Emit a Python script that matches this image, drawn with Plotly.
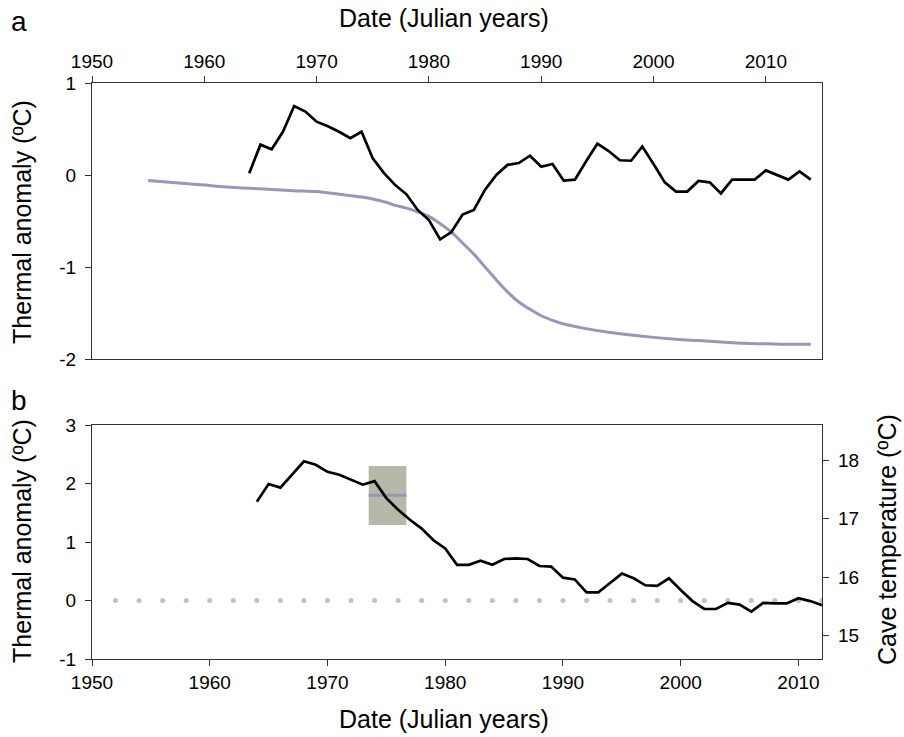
import plotly.graph_objects as go

# ---------------- data ----------------
years_a = list(range(1964, 2015))
anomaly_a = [0.02, 0.33, 0.28, 0.47, 0.75, 0.69, 0.58, 0.53, 0.47, 0.40,
             0.47, 0.18, 0.02, -0.11, -0.21, -0.38, -0.49, -0.70, -0.62, -0.43,
             -0.38, -0.16, 0.00, 0.11, 0.13, 0.21, 0.09, 0.12, -0.06, -0.05,
             0.15, 0.34, 0.26, 0.16, 0.155, 0.31, 0.12, -0.08, -0.18, -0.18,
             -0.065, -0.08, -0.20, -0.05, -0.05, -0.05, 0.05, 0.00, -0.05, 0.04,
             -0.05]

model_years = [1955, 1958, 1960, 1962, 1965, 1968, 1970, 1972, 1974, 1976,
               1977, 1978, 1979, 1980, 1981, 1982, 1983, 1984, 1985, 1986,
               1987, 1988, 1989, 1990, 1991, 1992, 1994, 1996, 1998, 2000,
               2002, 2004, 2006, 2008, 2010, 2012, 2014]
model_vals = [-0.06, -0.09, -0.11, -0.13, -0.15, -0.17, -0.18, -0.21, -0.24, -0.29,
              -0.33, -0.36, -0.40, -0.45, -0.53, -0.62, -0.74, -0.86, -1.00, -1.14,
              -1.27, -1.38, -1.46, -1.53, -1.58, -1.62, -1.67, -1.71, -1.74, -1.765,
              -1.785, -1.80, -1.815, -1.83, -1.835, -1.84, -1.84]

years_b = list(range(1964, 2013))
anomaly_b = [1.69, 1.99, 1.93, 2.15, 2.38, 2.32, 2.20, 2.15, 2.07, 1.98,
             2.04, 1.75, 1.55, 1.38, 1.23, 1.03, 0.89, 0.61, 0.61, 0.68,
             0.61, 0.71, 0.72, 0.71, 0.59, 0.58, 0.39, 0.36, 0.14, 0.14,
             0.30, 0.46, 0.38, 0.26, 0.25, 0.38, 0.18, -0.01, -0.145, -0.145,
             -0.04, -0.07, -0.19, -0.04, -0.05, -0.05, 0.04, -0.01, -0.08]

zero_years = list(range(1952, 2013, 2))
zero_vals = [0] * len(zero_years)

box_years = [1973.5, 1976.7]
box_range = [1.29, 2.30]
box_mean = 1.80

cave_offset = 15.6  # cave temperature = anomaly + offset

x_ticks = [1950, 1960, 1970, 1980, 1990, 2000, 2010]
ya_ticks = [-2, -1, 0, 1]
ya_text = ["-2", "-1", "0", "1"]
yb_ticks = [-1, 0, 1, 2, 3]
yb_text = ["-1", "0", "1", "2", "3"]
cave_ticks = [15, 16, 17, 18]

# ---------------- styles ----------------
FONT = "Arial, Liberation Sans, sans-serif"
AX = "#333333"
PURPLE = "#9797b8"
BOXC = "#b7b8aa"
DOTC = "#c2c2ba"

W, H = 904, 737
def px_x(p): return p / W
def px_y(p): return 1 - p / H

fig = go.Figure()

# panel a
fig.add_trace(go.Scatter(x=model_years, y=model_vals, mode="lines",
                         line=dict(color=PURPLE, width=3, shape="spline", smoothing=1.0),
                         xaxis="x", yaxis="y", showlegend=False))
fig.add_trace(go.Scatter(x=years_a, y=anomaly_a, mode="lines", line=dict(color="black", width=2.7),
                         xaxis="x", yaxis="y", showlegend=False))

# panel b
fig.add_trace(go.Scatter(x=zero_years, y=zero_vals, mode="markers", marker=dict(color=DOTC, size=5),
                         xaxis="x2", yaxis="y2", showlegend=False))
fig.add_trace(go.Scatter(x=[box_years[0], box_years[1], box_years[1], box_years[0], box_years[0]],
                         y=[box_range[0], box_range[0], box_range[1], box_range[1], box_range[0]],
                         mode="lines", fill="toself", fillcolor=BOXC, line=dict(width=0, color=BOXC),
                         xaxis="x2", yaxis="y2", showlegend=False))
fig.add_trace(go.Scatter(x=box_years, y=[box_mean, box_mean], mode="lines", line=dict(color=PURPLE, width=3),
                         xaxis="x2", yaxis="y2", showlegend=False))
fig.add_trace(go.Scatter(x=years_b, y=anomaly_b, mode="lines", line=dict(color="black", width=2.7),
                         xaxis="x2", yaxis="y2", showlegend=False))
# invisible trace to activate the right axis
fig.add_trace(go.Scatter(x=[1950], y=[15], mode="markers", marker=dict(opacity=0),
                         xaxis="x2", yaxis="y3", showlegend=False, hoverinfo="skip"))

tickfont = dict(family=FONT, size=19, color="black")
common = dict(showgrid=False, zeroline=False, showline=True, linecolor=AX, linewidth=1.3,
              ticks="outside", ticklen=6, tickcolor=AX, tickwidth=1.3, tickfont=tickfont,
              automargin=False)

xdom = [px_x(92), px_x(822)]
fig.update_layout(
    width=W, height=H, margin=dict(l=0, r=0, t=0, b=0),
    paper_bgcolor="white", plot_bgcolor="white",
    font=dict(family=FONT, color="black"),
    xaxis=dict(domain=xdom, range=[1950, 2015], side="top", anchor="y", tickvals=x_ticks,
               mirror=True, **common),
    yaxis=dict(domain=[px_y(359), px_y(83)], range=[-2, 1], tickvals=ya_ticks, ticktext=ya_text,
               anchor="x", mirror=True, ticklabelstandoff=5, **common),
    xaxis2=dict(domain=xdom, range=[1950, 2012], anchor="y2", tickvals=x_ticks, mirror=True, **common),
    yaxis2=dict(domain=[px_y(659), px_y(425)], range=[-1, 3], tickvals=yb_ticks, ticktext=yb_text,
                anchor="x2", mirror=True, ticklabelstandoff=5, **common),
    yaxis3=dict(overlaying="y2", side="right", anchor="x2",
                range=[-1 + cave_offset, 3 + cave_offset], tickvals=cave_ticks,
                ticklabelstandoff=5, **common),
)

TITLE = dict(family=FONT, size=25, color="black")
anns = [
    dict(text="Date (Julian years)", x=px_x(444), y=px_y(18)),
    dict(text="Date (Julian years)", x=px_x(444), y=px_y(719)),
    dict(text="Thermal anomaly (ºC)", x=px_x(22), y=px_y(222), textangle=-90),
    dict(text="Thermal anomaly (ºC)", x=px_x(22), y=px_y(541), textangle=-90),
    dict(text="Cave temperature (ºC)", x=px_x(887), y=px_y(540), textangle=-90),
]
for a in anns:
    fig.add_annotation(xref="paper", yref="paper", showarrow=False, xanchor="center", yanchor="middle",
                       font=TITLE, **a)
fig.add_annotation(text="a", xref="paper", yref="paper", x=px_x(19), y=px_y(22), showarrow=False,
                   xanchor="center", yanchor="middle", font=dict(family=FONT, size=28, color="black"))
fig.add_annotation(text="b", xref="paper", yref="paper", x=px_x(19), y=px_y(400), showarrow=False,
                   xanchor="center", yanchor="middle", font=dict(family=FONT, size=28, color="black"))

fig.write_html("out.html")
